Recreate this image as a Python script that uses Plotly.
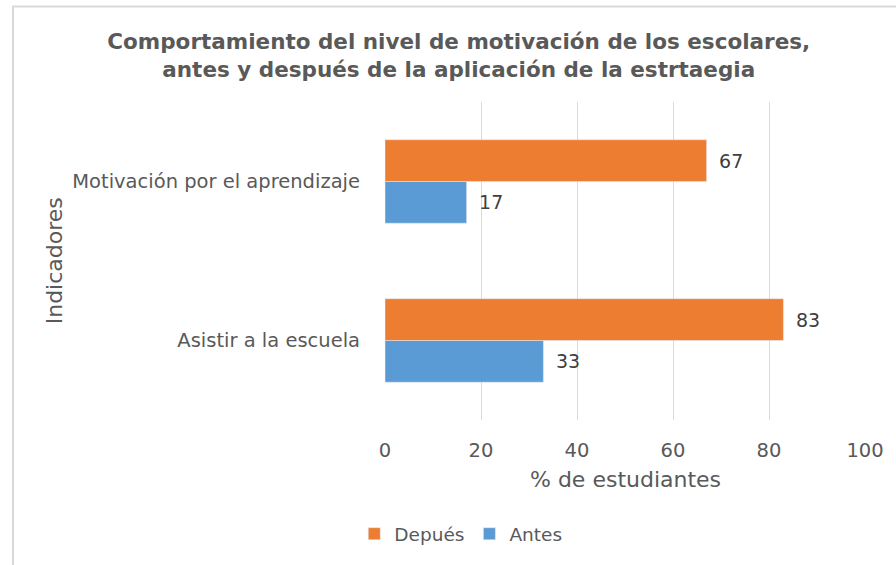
import plotly.graph_objects as go

categories = ["Asistir a la escuela", "Motivación por el aprendizaje"]
antes = [33, 17]
despues = [83, 67]
x_ticks = [0, 20, 40, 60, 80, 100]

GRAY = "#595959"
FONT = "DejaVu Sans"
PAD = "\u2002"

fig = go.Figure()
fig.add_trace(go.Bar(
    y=categories, x=antes, orientation="h", name="Antes",
    marker=dict(color="#5B9BD5"),
    text=[PAD + str(v) for v in antes], textposition="outside",
    textfont=dict(family=FONT, size=19, color="#404040"), cliponaxis=False,
))
fig.add_trace(go.Bar(
    y=categories, x=despues, orientation="h", name="Depués",
    marker=dict(color="#ED7D31"),
    text=[PAD + str(v) for v in despues], textposition="outside",
    textfont=dict(family=FONT, size=19, color="#404040"), cliponaxis=False,
))

fig.update_layout(
    width=896, height=565,
    margin=dict(l=385, r=28, t=102, b=143),
    paper_bgcolor="white", plot_bgcolor="white",
    barmode="group", bargap=0.475, bargroupgap=0,
    font=dict(family=FONT, color=GRAY, size=19),
    title=dict(
        text="<b>Comportamiento del nivel de motivación de los escolares,<br>antes y después de la aplicación de la estrtaegia</b>",
        x=0.512, xref="container", xanchor="center",
        y=0.914, yref="container", yanchor="middle",
        font=dict(family=FONT, size=21.5, color=GRAY),
    ),
    xaxis=dict(
        range=[0, 100], tickvals=x_ticks, ticktext=[str(v) for v in x_ticks],
        showgrid=True, gridcolor="#d9d9d9", gridwidth=1.3,
        zeroline=False, showline=False, ticks="",
        ticklabelstandoff=16,
        tickfont=dict(family=FONT, size=19.5, color=GRAY),
    ),
    yaxis=dict(
        showgrid=False, zeroline=False, showline=False, ticks="",
        ticklabelstandoff=24,
        tickfont=dict(family=FONT, size=19.5, color=GRAY),
    ),
    legend=dict(
        orientation="h", traceorder="reversed",
        x=-0.064, xanchor="left", y=-0.359, yanchor="middle",
        font=dict(family=FONT, size=18.5, color=GRAY),
        itemwidth=30,
    ),
    showlegend=True,
    annotations=[
        dict(text="% de estudiantes", xref="paper", yref="paper",
             x=0.5, y=-0.1875, xanchor="center", yanchor="middle", showarrow=False,
             font=dict(family=FONT, size=22, color=GRAY)),
        dict(text="Indicadores", xref="paper", yref="paper", textangle=-90,
             x=-0.689, y=0.5, xanchor="center", yanchor="middle", showarrow=False,
             font=dict(family=FONT, size=22, color=GRAY)),
    ],
    shapes=[
        dict(type="rect", xref="paper", yref="paper",
             x0=-0.775, x1=1.2, y0=-1.0, y1=1.30,
             line=dict(color="#d9d9d9", width=2), fillcolor="rgba(0,0,0,0)", layer="below"),
    ],
)

fig.write_html("out.html", config={"displayModeBar": False},
               post_script="document.body.style.margin='0';")
